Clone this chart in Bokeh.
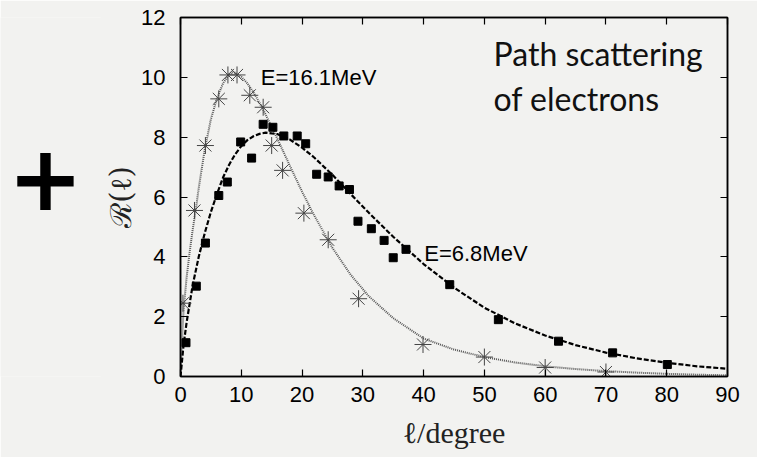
from bokeh.plotting import figure
from bokeh.models import LinearAxis, Label, FixedTicker, Range1d
from bokeh.layouts import row
from bokeh.core.properties import value
from bokeh.embed import file_html
from bokeh.resources import INLINE

# Measured path-scattering ratios, E = 16.1 MeV (asterisks)
star_x = [0.4, 2.3, 4.1, 6.3, 7.8, 9.3, 11.4, 13.6, 15.0, 16.8, 20.3, 24.3, 29.3, 39.9, 50.0, 60.0, 70.0]
star_y = [2.45, 5.55, 7.72, 9.28, 10.08, 10.08, 9.4, 9.0, 7.72, 6.89, 5.46, 4.57, 2.6, 1.07, 0.65, 0.3, 0.15]

# Measured path-scattering ratios, E = 6.8 MeV (squares)
sq_x = [0.9, 2.6, 4.1, 6.3, 7.7, 9.9, 11.7, 13.6, 15.2, 17.0, 19.2, 20.6, 22.4, 24.3, 26.1, 27.8,
        29.2, 31.4, 33.5, 35.0, 37.1, 44.3, 52.3, 62.2, 71.1, 80.1]
sq_y = [1.13, 3.02, 4.46, 6.05, 6.5, 7.84, 7.3, 8.43, 8.33, 8.04, 8.04, 7.78, 6.76, 6.67, 6.37, 6.25,
        5.19, 4.94, 4.55, 3.97, 4.25, 3.07, 1.9, 1.18, 0.79, 0.40]

# Fitted curve, E = 16.1 MeV (dotted)
fit16_x = [0, 0.2, 0.5, 1, 1.5, 2, 2.5, 3, 4, 5, 6, 7, 8, 8.5, 9, 10, 11, 12, 13, 14, 16, 18, 20,
           22, 25, 28, 31, 35, 40, 45, 50, 55, 60, 65, 70, 75, 80, 85, 90]
fit16_y = [0, 1.0, 2.2, 3.3, 4.15, 4.9, 5.55, 6.3, 7.6, 8.6, 9.3, 9.8, 10.1, 10.17, 10.15, 10.02, 9.8,
           9.5, 9.15, 8.76, 7.92, 7.04, 6.18, 5.38, 4.3, 3.4, 2.68, 1.95, 1.27, 0.9, 0.65, 0.47, 0.34,
           0.25, 0.18, 0.13, 0.09, 0.06, 0.04]

# Fitted curve, E = 6.8 MeV (dashed)
fit68_x = [0, 0.5, 1, 2, 3, 4, 5, 6, 7, 8, 9, 10, 11, 12, 13, 14, 16, 18, 20, 22, 25, 28, 31, 35,
           40, 45, 50, 55, 60, 65, 70, 75, 80, 85, 90]
fit68_y = [0, 1.05, 1.8, 3.05, 4.0, 4.8, 5.5, 6.1, 6.65, 7.08, 7.43, 7.7, 7.9, 8.03, 8.11, 8.15, 8.1,
           7.92, 7.65, 7.32, 6.74, 6.1, 5.47, 4.67, 3.76, 2.97, 2.3, 1.78, 1.37, 1.05, 0.8, 0.61, 0.46,
           0.34, 0.26]

x_ticks = [0, 10, 20, 30, 40, 50, 60, 70, 80, 90]
y_ticks = [0, 2, 4, 6, 8, 10, 12]

BG = "#f2f2f0"
SANS = "Liberation Sans"
SIDE_W = 100

# Narrow side panel holding the large plus sign (pixel-like coordinates);
# one extra column slides under the main plot so no seam shows between them
side = figure(width=SIDE_W + 1, height=457, x_range=Range1d(0, SIDE_W + 1), y_range=Range1d(457, 0),
              output_backend="svg", toolbar_location=None,
              min_border_left=0, min_border_right=0, min_border_top=0, min_border_bottom=0)
side.axis.visible = False
side.grid.visible = False
side.outline_line_color = None
side.background_fill_color = BG
side.border_fill_color = BG
side.text(x=[45], y=[202], text=["+"], text_font=value("DejaVu Sans"), text_font_style="bold",
          text_font_size="90px", text_align="center", text_baseline="middle", text_color="black")

p = figure(width=757 - SIDE_W, height=457, x_range=Range1d(0, 90), y_range=Range1d(0, 12),
           output_backend="svg", toolbar_location=None,
           min_border_left=180 - SIDE_W, min_border_right=30, min_border_top=17, min_border_bottom=81)
p.margin = (0, 0, 0, -1)
p.background_fill_color = BG
p.border_fill_color = BG
p.outline_line_color = "black"
p.outline_line_width = 1.5
p.xgrid.visible = False
p.ygrid.visible = False


def style_axis(ax, ticks, show_labels):
    ax.ticker = FixedTicker(ticks=ticks)
    ax.axis_line_color = "black"
    ax.axis_line_width = 1.5
    ax.major_tick_in = 7
    ax.major_tick_out = 0
    ax.major_tick_line_color = "black"
    ax.major_tick_line_width = 1.2
    ax.minor_tick_line_color = None
    if show_labels:
        ax.major_label_text_font = SANS
        ax.major_label_text_font_size = "22px"
        ax.major_label_text_color = "black"
    else:
        ax.major_label_text_font_size = "0px"
        ax.major_label_text_color = None
        ax.major_label_standoff = 0


style_axis(p.xaxis[0], x_ticks, True)
style_axis(p.yaxis[0], y_ticks, True)
p.xaxis.major_label_standoff = 10
p.yaxis.major_label_standoff = 15

p.xaxis.axis_label = "ℓ/degree"
p.xaxis.axis_label_text_font = "Liberation Serif"
p.xaxis.axis_label_text_font_style = "normal"
p.xaxis.axis_label_text_font_size = "30px"
p.xaxis.axis_label_text_color = "#222222"
p.xaxis.axis_label_standoff = 11

p.yaxis.axis_label = "ℛ(ℓ)"
p.yaxis.axis_label_text_font = "DejaVu Serif"
p.yaxis.axis_label_text_font_style = "normal"
p.yaxis.axis_label_text_font_size = "29px"
p.yaxis.axis_label_text_color = "#222222"
p.yaxis.axis_label_standoff = 0

top_axis = LinearAxis()
style_axis(top_axis, x_ticks, False)
p.add_layout(top_axis, "above")
right_axis = LinearAxis()
style_axis(right_axis, y_ticks, False)
p.add_layout(right_axis, "right")

# Fitted curves
p.line(fit16_x, fit16_y, line_color="#555555", line_width=2.0, line_dash="1 1")
p.line(fit68_x, fit68_y, line_color="black", line_width=2.2, line_dash="5 2")

# Data points
p.scatter(star_x, star_y, marker="asterisk", size=17, line_color="#444444", line_width=1.0)
p.scatter(sq_x, sq_y, marker="square", size=8, fill_color="black", line_color="black")

# Curve annotations
p.add_layout(Label(x=13.2, y=10.0, text="E=16.1MeV", text_font=SANS, text_font_size="22px",
                   text_baseline="alphabetic", text_color="black"))
p.add_layout(Label(x=40.1, y=4.12, text="E=6.8MeV", text_font=SANS, text_font_size="22px",
                   text_baseline="alphabetic", text_color="black"))

# Title block
p.add_layout(Label(x=51.5, y=10.78, text="Path scattering", text_font="Lato", text_font_size="32px",
                   text_baseline="alphabetic", text_color="#111111"))
p.add_layout(Label(x=51.5, y=9.3, text="of electrons", text_font="Lato", text_font_size="32px",
                   text_baseline="alphabetic", text_color="#111111"))

layout = row(side, p)
open("out.html", "w").write(file_html(layout, INLINE))
